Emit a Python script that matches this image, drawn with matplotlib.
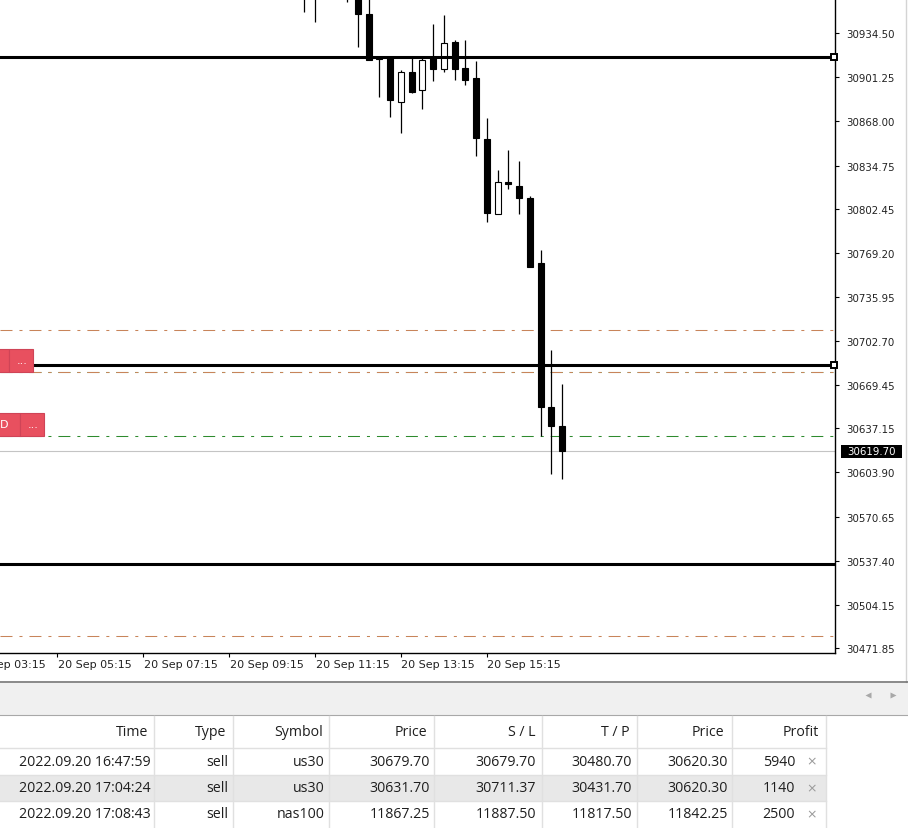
import matplotlib.pyplot as plt
from matplotlib.patches import Rectangle
from matplotlib.transforms import blended_transform_factory

W, H = 908, 829

# ------------------ chart data (M15 us30, 20 Sep) ------------------
times = ["11:00", "11:15", "12:00", "12:15", "12:30", "12:45", "13:00", "13:15",
         "13:30", "13:45", "14:00", "14:15", "14:30", "14:45", "15:00", "15:15",
         "15:30", "15:45", "16:00", "16:15", "16:30", "16:45", "17:00"]
opens = [30978.0, 30975.0, 30985.0, 30968.0, 30949.0, 30915.5, 30915.9, 30882.8,
         30905.2, 30891.9, 30915.9, 30907.4, 30927.5, 30908.0, 30900.9, 30854.8,
         30798.3, 30822.6, 30819.5, 30810.1, 30761.5, 30653.4, 30638.6]
highs = [30990.0, 30988.0, 30992.0, 30975.0, 30963.0, 30915.8, 30916.0, 30906.4,
         30915.5, 30915.9, 30941.3, 30948.3, 30929.2, 30929.2, 30913.2, 30870.3,
         30831.7, 30846.7, 30838.0, 30811.9, 30771.5, 30696.3, 30670.5]
lows = [30950.5, 30942.8, 30957.8, 30924.0, 30914.0, 30886.1, 30871.1, 30859.0,
        30889.1, 30877.3, 30898.6, 30905.4, 30899.4, 30895.4, 30842.2, 30792.1,
        30798.0, 30817.2, 30798.3, 30758.5, 30631.3, 30602.7, 30599.0]
closes = [30968.0, 30970.0, 30975.0, 30948.8, 30914.4, 30914.6, 30884.3, 30905.4,
          30889.9, 30914.2, 30907.4, 30927.2, 30907.4, 30899.2, 30855.5, 30799.1,
          30822.6, 30820.7, 30810.3, 30758.7, 30653.4, 30638.6, 30619.7]

# user drawn horizontal levels
levels = [30916.45, 30684.75, 30535.04]
anchored_levels = [30916.45, 30684.75]

price_ticks = [30934.50, 30901.25, 30868.00, 30834.75, 30802.45, 30769.20, 30735.95,
               30702.70, 30669.45, 30637.15, 30603.90, 30570.65, 30537.40, 30504.15,
               30471.85]
time_ticks = ["03:15", "05:15", "07:15", "09:15", "11:15", "13:15", "15:15"]

# ------------------ trade table ------------------
headers = ["Time", "Type", "Symbol", "Price", "S / L", "T / P", "Price", "Profit"]
open_times = ["2022.09.20 16:47:59", "2022.09.20 17:04:24", "2022.09.20 17:08:43"]
types = ["sell", "sell", "sell"]
symbols = ["us30", "us30", "nas100"]
entry = [30679.70, 30631.70, 11867.25]
sl = [30679.70, 30711.37, 11887.50]
tp = [30480.70, 30431.70, 11817.50]
cur_price = [30620.30, 30620.30, 11842.25]
profit = [5940, 1140, 2500]


def bar_index(t):
    h, m = t.split(":")
    return int(h) * 4 + int(m) // 15


idx = [bar_index(t) for t in times]

# pixel calibration of the screenshot
PX_PER_BAR = 10.74
X0_PX, X0_IDX = 315, 45
Y_SCALE = 0.75228           # price per pixel
TOP_PRICE = 30960.08        # price at y = 0
AX_BOTTOM_PX, AX_RIGHT_PX = 654, 835


def px_to_x(px):
    return X0_IDX + (px - X0_PX) / PX_PER_BAR


fig = plt.figure(figsize=(W / 100, H / 100), dpi=100)
fig.patch.set_facecolor("white")
plt.rcParams["font.family"] = ["DejaVu Sans"]

# overlay in screen pixels for the terminal panel
ov = fig.add_axes([0, 0, 1, 1], zorder=0)
ov.set_xlim(0, W)
ov.set_ylim(H, 0)
ov.axis("off")

ax = fig.add_axes([0, (H - AX_BOTTOM_PX) / H, AX_RIGHT_PX / W, AX_BOTTOM_PX / H], zorder=1)
xlim = (px_to_x(0), px_to_x(AX_RIGHT_PX))
ylim = (TOP_PRICE - Y_SCALE * AX_BOTTOM_PX, TOP_PRICE)
for side in ["left", "top"]:
    ax.spines[side].set_visible(False)
for side in ["right", "bottom"]:
    ax.spines[side].set_linewidth(1.0)
    ax.spines[side].set_color("black")

# trade lines: entries green, stops / targets brown
dash = (11.5, 6.7, 2.9, 6.7)
us = [i for i, s in enumerate(symbols) if s == "us30"]
for i in us:
    ax.axhline(entry[i], color="#2e8b2e", lw=0.75, dashes=dash, zorder=2)
for i in us:
    ax.axhline(sl[i], color="#c8845a", lw=0.75, dashes=dash, zorder=2)
    ax.axhline(tp[i], color="#c8845a", lw=0.75, dashes=dash, zorder=2)

# bid line
ax.axhline(closes[-1], color="#c4c4c4", lw=0.8, zorder=2)

# horizontal level objects
for lv in levels:
    ax.axhline(lv, color="black", lw=2.2, zorder=5)
for lv in anchored_levels:
    ax.plot(px_to_x(AX_RIGHT_PX - 1), lv, marker="s", ms=4.5, mfc="white", mec="black",
            mew=1.4, clip_on=False, zorder=6)

# candles
body_bottom = [min(o, c) for o, c in zip(opens, closes)]
body_height = [max(abs(c - o), 0.8) for o, c in zip(opens, closes)]
body_color = ["white" if c > o else "black" for o, c in zip(opens, closes)]
ax.vlines(idx, lows, highs, color="black", lw=0.9, zorder=3)
ax.bar(idx, body_height, bottom=body_bottom, width=0.56, color=body_color,
       edgecolor="black", linewidth=0.8, zorder=4)

# trade labels at the left edge
label_h = 23 * Y_SCALE
box_specs = [(0, 9, entry[0], ""), (11.3, 33.3, entry[0], "..."),
             (0, 20, entry[1], "D"), (21.7, 44, entry[1], "...")]
for x_a, x_b, base, txt in box_specs:
    ax.add_patch(Rectangle((px_to_x(x_a - 2), base), px_to_x(x_b) - px_to_x(x_a - 2), label_h,
                           facecolor="#e8505f", edgecolor="#cf4457", lw=0.8, zorder=7))
    if txt:
        ax.text(px_to_x((x_a + x_b) / 2 - (6 if txt == "D" else 0)), base + label_h / 2,
                txt, color="white", fontsize=8, ha="center", va="center", zorder=8)

# price axis
ax.yaxis.tick_right()
ax.set_yticks(price_ticks)
ax.set_yticklabels([f"{v:.2f}" for v in price_ticks])
ax.tick_params(axis="y", direction="out", length=3, width=0.8, pad=5,
               labelsize=7.4, labelcolor="#222222")

# time axis (ticks only where they fall inside the view)
tick_idx = [bar_index(t) for t in time_ticks]
ax.set_xticks([i for i in tick_idx if i >= xlim[0]])
ax.set_xticklabels([])
ax.tick_params(axis="x", direction="out", length=3, width=0.8)
xt = blended_transform_factory(ax.transData, ax.transAxes)
for t in time_ticks:
    ax.text(bar_index(t) + 0.05, -11 / AX_BOTTOM_PX, "20 Sep " + t, transform=xt,
            ha="left", va="center", fontsize=8.0, color="#222222", clip_on=False)

ax.set_xlim(*xlim)
ax.set_ylim(*ylim)

# current price tag
yt = blended_transform_factory(ax.transAxes, ax.transData)
ax.add_patch(Rectangle((841 / AX_RIGHT_PX, closes[-1] - 6.5 * Y_SCALE), 61 / AX_RIGHT_PX,
                       13 * Y_SCALE, transform=yt, facecolor="black", clip_on=False, zorder=8))
ax.text(871.5 / AX_RIGHT_PX, closes[-1], f"{closes[-1]:.2f}", transform=yt, color="white",
        fontsize=7.4, ha="center", va="center", clip_on=False, zorder=9)

# ------------------ terminal panel ------------------
ov.plot([905.5, 905.5], [0, 683], color="#d4d4d4", lw=1)
ov.add_patch(Rectangle((0, 684), W, 32, facecolor="#f0f0f0", edgecolor="none"))
ov.plot([0, W], [682.5, 682.5], color="#6a6a6a", lw=1.1)
ov.plot([0, W], [716, 716], color="#a8a8a8", lw=0.8)
ov.plot(868, 696, marker="<", ms=4.5, color="#a8a8a8", mec="none")
ov.plot(893, 696, marker=">", ms=4.5, color="#a8a8a8", mec="none")

table_right = 826
ov.add_patch(Rectangle((0, 776), table_right, 26, facecolor="#e8e8e8", edgecolor="none"))
col_edges = [154, 233, 329, 434, 541.7, 637.3, 731.7, 826.3]
for xe in col_edges:
    ov.plot([xe, xe], [717, H], color="#e0e0e0", lw=1)
for ye in [749, 776, 802]:
    ov.plot([0, table_right], [ye, ye], color="#e0e0e0", lw=1)

head_right = [148, 226, 323, 427, 535, 630, 724, 819]
val_right = [151, 228, 325, 430, 536, 632, 728, 795]
tfont = dict(family="Open Sans", fontsize=10.2, color="#1e1e1e", va="center", ha="right")
for x, h in zip(head_right, headers):
    ov.text(x, 733, h, **tfont)
row_y = [762, 789, 815]
for r in range(3):
    vals = [open_times[r], types[r], symbols[r], f"{entry[r]:.2f}", f"{sl[r]:.2f}",
            f"{tp[r]:.2f}", f"{cur_price[r]:.2f}", str(profit[r])]
    for x, v in zip(val_right, vals):
        ov.text(x, row_y[r], v, **tfont)
    ov.text(812, row_y[r], "×", family="DejaVu Sans", fontsize=9, color="#9a9a9a",
            ha="center", va="center")

fig.savefig("out.png", dpi=100, facecolor="white")
